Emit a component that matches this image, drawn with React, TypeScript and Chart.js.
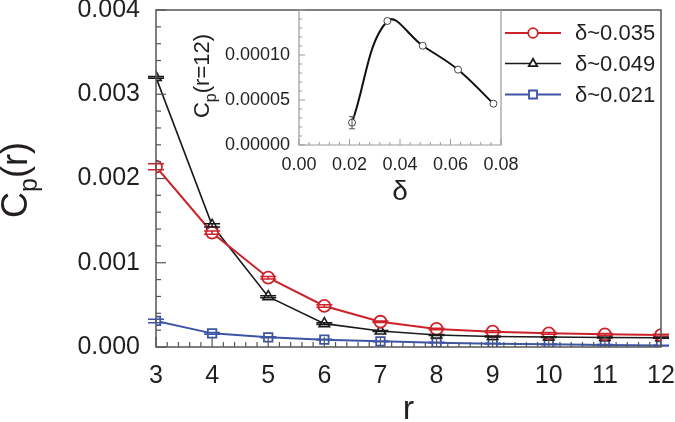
import React, { useEffect, useRef } from 'react';
import { Chart, registerables } from 'chart.js';
Chart.register(...registerables);

const FONT = '"Liberation Sans", Arial, Helvetica, sans-serif';
const TEXT = '#231f20';
const AXIS = '#555555';
const RED = '#cc2229';
const BLACK = '#1a1a1a';
const BLUE = '#3c55a5';

// main plot data
const rValues = [3, 4, 5, 6, 7, 8, 9, 10, 11, 12];
const cpDelta035 = [0.00214, 0.001357, 0.000823, 0.000487, 0.0003, 0.000214, 0.000182, 0.000162, 0.00015, 0.000142];
const cpDelta049 = [0.0032, 0.001444, 0.000597, 0.000277, 0.00019, 0.000142, 0.000125, 0.000118, 0.000113, 0.00011];
const cpDelta021 = [0.000309, 0.000162, 0.000115, 0.000087, 0.000067, 0.000051, 0.00004, 0.000032, 0.000024, 0.000017];
const errDelta035 = [0.000035, 0.00002, 0.000015, 0.000015, 0.00001, 0.00001, 0.00001, 0.00001, 0.00001, 0.00001];
const errDelta049 = [0.00001, 0.00002, 0.000012, 0.00001, 0.000006, 0.000005, 0.000005, 0.000005, 0.000005, 0.000005];
const errDelta021 = [0.00002, 0.00001, 0.000006, 0.000005, 0.000005, 0.000005, 0.000005, 0.000005, 0.000005, 0.000005];
const seriesLabels = ['δ~0.035', 'δ~0.049', 'δ~0.021'];

// inset data
const deltaValues = [0.021, 0.035, 0.049, 0.063, 0.077];
const cpR12 = [0.0000248, 0.0001378, 0.0001103, 0.0000837, 0.0000459];
const cpR12Err = [0.0000068, 0, 0, 0, 0];

type Part = { text: string; size: number; dy: number };

function drawParts(ctx: CanvasRenderingContext2D, parts: Part[], cx: number, cy: number, rotate: boolean) {
  ctx.save();
  ctx.fillStyle = TEXT;
  ctx.textBaseline = 'alphabetic';
  ctx.textAlign = 'left';
  let total = 0;
  const widths = parts.map((p) => {
    ctx.font = `${p.size}px ${FONT}`;
    const w = ctx.measureText(p.text).width;
    total += w;
    return w;
  });
  ctx.translate(cx, cy);
  if (rotate) ctx.rotate(-Math.PI / 2);
  let x = -total / 2;
  parts.forEach((p, i) => {
    ctx.font = `${p.size}px ${FONT}`;
    ctx.fillText(p.text, x, p.dy);
    x += widths[i];
  });
  ctx.restore();
}

function drawInwardTicks(
  ctx: CanvasRenderingContext2D,
  scale: any,
  min: number,
  max: number,
  minorStep: number,
  majorEvery: number,
  majorLen: number,
  minorLen: number,
  horizontal: boolean,
  base: number
) {
  const n = Math.round((max - min) / minorStep);
  for (let i = 0; i <= n; i++) {
    const v = min + i * minorStep;
    const p = scale.getPixelForValue(v);
    const len = i % majorEvery === 0 ? majorLen : minorLen;
    ctx.beginPath();
    if (horizontal) {
      ctx.moveTo(p, base);
      ctx.lineTo(p, base - len);
    } else {
      ctx.moveTo(base, p);
      ctx.lineTo(base + len, p);
    }
    ctx.stroke();
  }
}

const mainDecor = {
  id: 'mainDecor',
  afterDatasetsDraw(chart: any) {
    const ctx: CanvasRenderingContext2D = chart.ctx;
    const ys = chart.scales.y;
    const errs = [errDelta035, errDelta049, errDelta021];
    const vals = [cpDelta035, cpDelta049, cpDelta021];
    chart.data.datasets.forEach((ds: any, i: number) => {
      const meta = chart.getDatasetMeta(i);
      ctx.save();
      ctx.strokeStyle = ds.borderColor;
      ctx.lineWidth = 1.5;
      meta.data.forEach((pt: any, j: number) => {
        const yt = ys.getPixelForValue(vals[i][j] + errs[i][j]);
        const yb = ys.getPixelForValue(vals[i][j] - errs[i][j]);
        ctx.beginPath();
        ctx.moveTo(pt.x, yt);
        ctx.lineTo(pt.x, yb);
        ctx.moveTo(pt.x - 8, yt);
        ctx.lineTo(pt.x + 8, yt);
        ctx.moveTo(pt.x - 8, yb);
        ctx.lineTo(pt.x + 8, yb);
        ctx.stroke();
      });
      ctx.restore();
    });
  },
  afterDraw(chart: any) {
    const ctx: CanvasRenderingContext2D = chart.ctx;
    const { left, right, top, bottom } = chart.chartArea;
    const xs = chart.scales.x;
    const ys = chart.scales.y;
    ctx.save();
    ctx.strokeStyle = AXIS;
    ctx.lineWidth = 1.5;
    ctx.strokeRect(left, top, right - left, bottom - top);
    ctx.lineWidth = 1.2;
    drawInwardTicks(ctx, xs, 3, 12, 0.2, 5, 10, 5, true, bottom);
    drawInwardTicks(ctx, ys, 0, 0.004, 0.0002, 5, 10, 5, false, left);
    ctx.restore();

    // axis titles
    drawParts(
      ctx,
      [
        { text: 'C', size: 36, dy: 0 },
        { text: 'p', size: 25, dy: 10 },
        { text: '(r)', size: 36, dy: 0 },
      ],
      27,
      180,
      true
    );
    drawParts(ctx, [{ text: 'r', size: 34, dy: 0 }], (left + right) / 2, 419, false);

    // legend
    const colors = [RED, BLACK, BLUE];
    const styles = ['circle', 'triangle', 'rect'];
    const rows = [33, 63.5, 94.5];
    rows.forEach((y, i) => {
      ctx.save();
      ctx.strokeStyle = colors[i];
      ctx.lineWidth = i === 1 ? 1.6 : 2;
      ctx.beginPath();
      ctx.moveTo(505, y);
      ctx.lineTo(561, y);
      ctx.stroke();
      ctx.fillStyle = '#ffffff';
      ctx.lineWidth = 1.8;
      ctx.beginPath();
      if (styles[i] === 'circle') {
        ctx.arc(533, y, 4.8, 0, Math.PI * 2);
      } else if (styles[i] === 'triangle') {
        ctx.moveTo(533, y - 4.8);
        ctx.lineTo(533 + 4.2, y + 2.6);
        ctx.lineTo(533 - 4.2, y + 2.6);
        ctx.closePath();
      } else {
        ctx.rect(529, y - 4, 8, 8);
      }
      ctx.fill();
      ctx.stroke();
      ctx.restore();
      ctx.save();
      ctx.fillStyle = TEXT;
      ctx.font = `22px ${FONT}`;
      ctx.textBaseline = 'middle';
      ctx.textAlign = 'left';
      ctx.fillText(seriesLabels[i], 575, y + 1);
      ctx.restore();
    });
  },
};

const insetDecor = {
  id: 'insetDecor',
  afterDatasetsDraw(chart: any) {
    const ctx: CanvasRenderingContext2D = chart.ctx;
    const ys = chart.scales.y;
    const meta = chart.getDatasetMeta(0);
    ctx.save();
    ctx.strokeStyle = '#555';
    ctx.lineWidth = 1;
    meta.data.forEach((pt: any, j: number) => {
      if (!cpR12Err[j]) return;
      const yt = ys.getPixelForValue(cpR12[j] + cpR12Err[j]);
      const yb = ys.getPixelForValue(cpR12[j] - cpR12Err[j]);
      ctx.beginPath();
      ctx.moveTo(pt.x, yt);
      ctx.lineTo(pt.x, yb);
      ctx.moveTo(pt.x - 3, yt);
      ctx.lineTo(pt.x + 3, yt);
      ctx.moveTo(pt.x - 3, yb);
      ctx.lineTo(pt.x + 3, yb);
      ctx.stroke();
    });
    ctx.restore();
  },
  afterDraw(chart: any) {
    const ctx: CanvasRenderingContext2D = chart.ctx;
    const { left, right, top, bottom } = chart.chartArea;
    const xs = chart.scales.x;
    const ys = chart.scales.y;
    ctx.save();
    ctx.strokeStyle = '#9a9a9a';
    ctx.lineWidth = 1.2;
    ctx.beginPath();
    ctx.moveTo(left, top);
    ctx.lineTo(left, bottom);
    ctx.lineTo(right, bottom);
    ctx.lineTo(right, top);
    ctx.stroke();
    ctx.lineWidth = 1;
    drawInwardTicks(ctx, xs, 0, 0.08, 0.004, 5, 6, 3, true, bottom);
    drawInwardTicks(ctx, ys, 0, 0.00015, 0.00001, 5, 6, 3, false, left);
    ctx.restore();

    drawParts(
      ctx,
      [
        { text: 'C', size: 22, dy: 0 },
        { text: 'p', size: 16, dy: 7 },
        { text: '(r=12)', size: 22, dy: 0 },
      ],
      209,
      76,
      true
    );
    drawParts(ctx, [{ text: 'δ', size: 28, dy: 0 }], (left + right) / 2, 200, false);
  },
};

export default function App() {
  const mainRef = useRef<HTMLCanvasElement | null>(null);
  const insetRef = useRef<HTMLCanvasElement | null>(null);

  useEffect(() => {
    const mk = (data: number[]) => rValues.map((r, i) => ({ x: r, y: data[i] }));
    const main = new Chart(mainRef.current as HTMLCanvasElement, {
      type: 'line',
      data: {
        datasets: [
          {
            label: seriesLabels[0],
            data: mk(cpDelta035),
            borderColor: RED,
            borderWidth: 2,
            pointStyle: 'circle',
            pointRadius: 6,
            pointBackgroundColor: '#ffffff',
            pointBorderColor: RED,
            pointBorderWidth: 1.8,
            tension: 0,
          },
          {
            label: seriesLabels[1],
            data: mk(cpDelta049),
            borderColor: BLACK,
            borderWidth: 1.6,
            pointStyle: 'triangle',
            pointRadius: 6,
            pointBackgroundColor: '#ffffff',
            pointBorderColor: BLACK,
            pointBorderWidth: 1.6,
            tension: 0,
          },
          {
            label: seriesLabels[2],
            data: mk(cpDelta021),
            borderColor: BLUE,
            borderWidth: 2,
            pointStyle: 'rect',
            pointRadius: 6,
            pointBackgroundColor: '#ffffff',
            pointBorderColor: BLUE,
            pointBorderWidth: 1.8,
            tension: 0,
          },
        ],
      },
      options: {
        animation: false,
        responsive: false,
        devicePixelRatio: 1,
        layout: { padding: { top: 10, right: 14, left: 0, bottom: 0 } },
        plugins: { legend: { display: false }, tooltip: { enabled: false } },
        scales: {
          x: {
            type: 'linear',
            min: 3,
            max: 12,
            afterFit: (s: any) => {
              s.height = 75;
              s.paddingLeft = 0;
              s.paddingRight = 0;
            },
            grid: { display: false, drawTicks: false },
            border: { display: false },
            ticks: {
              stepSize: 1,
              autoSkip: false,
              maxRotation: 0,
              padding: 14,
              color: TEXT,
              font: { family: FONT, size: 25 },
            },
          },
          y: {
            type: 'linear',
            min: 0,
            max: 0.004,
            afterFit: (s: any) => {
              s.width = 156;
              s.paddingTop = 0;
              s.paddingBottom = 0;
            },
            grid: { display: false, drawTicks: false },
            border: { display: false },
            ticks: {
              stepSize: 0.001,
              padding: 16,
              color: TEXT,
              font: { family: FONT, size: 25 },
              callback: (v: any) => Number(v).toFixed(3),
            },
          },
        },
      },
      plugins: [mainDecor],
    });

    const inset = new Chart(insetRef.current as HTMLCanvasElement, {
      type: 'line',
      data: {
        datasets: [
          {
            label: 'Cp(r=12)',
            data: deltaValues.map((d, i) => ({ x: d, y: cpR12[i] })),
            borderColor: '#111111',
            borderWidth: 2,
            tension: 0.4,
            pointStyle: 'circle',
            pointRadius: 3.5,
            pointBackgroundColor: '#ffffff',
            pointBorderColor: '#444444',
            pointBorderWidth: 1,
          },
        ],
      },
      options: {
        animation: false,
        responsive: false,
        devicePixelRatio: 1,
        layout: { padding: { top: 10, right: 174, left: 199, bottom: 217 } },
        plugins: { legend: { display: false }, tooltip: { enabled: false } },
        scales: {
          x: {
            type: 'linear',
            min: 0,
            max: 0.08,
            afterFit: (s: any) => {
              s.height = 60;
              s.paddingLeft = 0;
              s.paddingRight = 0;
            },
            grid: { display: false, drawTicks: false },
            border: { display: false },
            ticks: {
              stepSize: 0.02,
              autoSkip: false,
              maxRotation: 0,
              padding: 9,
              color: TEXT,
              font: { family: FONT, size: 18 },
              callback: (v: any) => Number(v).toFixed(2),
            },
          },
          y: {
            type: 'linear',
            min: 0,
            max: 0.00015,
            afterFit: (s: any) => {
              s.width = 100;
              s.paddingTop = 0;
              s.paddingBottom = 0;
            },
            grid: { display: false, drawTicks: false },
            border: { display: false },
            ticks: {
              stepSize: 0.00005,
              padding: 9,
              color: TEXT,
              font: { family: FONT, size: 18 },
              callback: (v: any) => (Number(v) > 0.00012 ? '' : Number(v).toFixed(5)),
            },
          },
        },
      },
      plugins: [insetDecor],
    });

    return () => {
      main.destroy();
      inset.destroy();
    };
  }, []);

  return (
    <div style={{ position: 'fixed', left: 0, top: 0, width: 675, height: 422, background: '#ffffff' }}>
      <canvas ref={mainRef} width={675} height={422} style={{ position: 'absolute', left: 0, top: 0, width: 675, height: 422 }} />
      <canvas ref={insetRef} width={675} height={422} style={{ position: 'absolute', left: 0, top: 0, width: 675, height: 422 }} />
    </div>
  );
}
